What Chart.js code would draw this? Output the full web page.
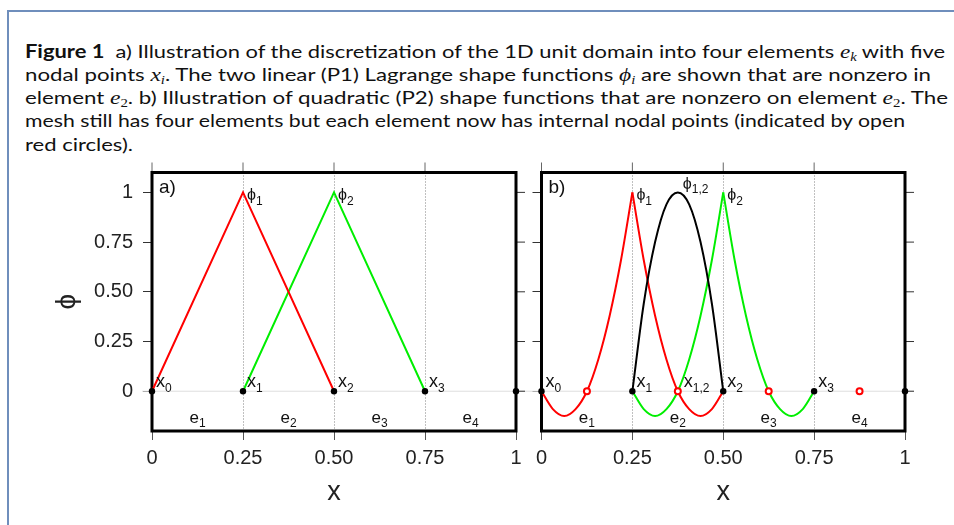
<!DOCTYPE html>
<html>
<head>
<meta charset="utf-8">
<script src="https://cdn.jsdelivr.net/npm/chart.js@4.4.0/dist/chart.umd.min.js"></script>
<style>
  html, body { margin: 0; padding: 0; background: #fff; }
  body { width: 954px; height: 525px; position: relative; overflow: hidden; }
  #frame { position: absolute; left: 7px; top: 10px; width: 960px; height: 530px;
           border-top: 2px solid #6f8ebc; border-left: 2px solid #6f8ebc; }
  .cap { position: absolute; left: 25px; font-family: Lato, "Noto Sans", sans-serif; font-size: 18px;
         color: #111; white-space: nowrap; transform-origin: 0 0; line-height: 24px; }
  .m { font-family: "Liberation Serif", "DejaVu Serif", serif; font-style: italic; font-size: 19px; }
  .m sub { font-size: 12px; vertical-align: -3px; line-height: 0; }
  .m sub.up { font-style: normal; }
  canvas { position: absolute; top: 150px; }
  #ca { left: 0; }
  #cb { left: 529px; }
</style>
</head>
<body>
<div id="frame"></div>
<div class="cap" style="top:39px"><b>Figure 1</b>&nbsp; a) Illustration of the discretization of the 1D unit domain into four elements <span class="m">e<sub>k</sub></span> with five</div>
<div class="cap" style="top:62px">nodal points <span class="m">x<sub>i</sub></span>. The two linear (P1) Lagrange shape functions <span class="m">ϕ<sub>i</sub></span> are shown that are nonzero in</div>
<div class="cap" style="top:85px">element <span class="m">e<sub class="up">2</sub></span>. b) Illustration of quadratic (P2) shape functions that are nonzero on element <span class="m">e<sub class="up">2</sub></span>. The</div>
<div class="cap" style="top:108px">mesh still has four elements but each element now has internal nodal points (indicated by open</div>
<div class="cap" style="top:132px">red circles).</div>

<canvas id="ca" width="529" height="375"></canvas>
<canvas id="cb" width="425" height="375"></canvas>

<script>
// axis ticks
const xTicks = [0, 0.25, 0.5, 0.75, 1];
const xTickLabels = ['0', '0.25', '0.50', '0.75', '1'];
const yTicks = [0, 0.25, 0.5, 0.75, 1];
const yTickLabels = ['0', '0.25', '0.50', '0.75', '1'];
const topTicks = [0, 0.25, 0.5, 0.75];

// mesh
const nodeX = [0, 0.25, 0.5, 0.75, 1];
const nodeY = [0, 0, 0, 0, 0];
const nodeSubs = ['0', '1', '2', '3'];
const midX = [0.125, 0.375, 0.625, 0.875];
const midY = [0, 0, 0, 0];
const elemSubs = ['1', '2', '3', '4'];

// a) linear shape functions
const p1xPhi1 = [0, 0.25, 0.5];
const p1xPhi2 = [0.25, 0.5, 0.75];
const p1Hat = [0, 1, 0];

// b) quadratic shape functions, read every 1/32
const xE1 = [0, 0.03125, 0.0625, 0.09375, 0.125, 0.15625, 0.1875, 0.21875, 0.25];
const xE2 = [0.25, 0.28125, 0.3125, 0.34375, 0.375, 0.40625, 0.4375, 0.46875, 0.5];
const xE3 = [0.5, 0.53125, 0.5625, 0.59375, 0.625, 0.65625, 0.6875, 0.71875, 0.75];
const p2Rise = [0, -0.09, -0.125, -0.09, 0, 0.16, 0.38, 0.66, 1];
const p2Fall = [1, 0.66, 0.38, 0.16, 0, -0.09, -0.125, -0.09, 0];
const p2Bubble = [0, 0.44, 0.75, 0.94, 1, 0.94, 0.75, 0.44, 0];

const phiPeakX = [0.25, 0.5];
const phiSubs = ['1', '2'];
const bubblePeakX = 0.375;
const bubbleSub = '1,2';

// fit caption lines to the widths in the figure
const capWidths = [920, 906, 923, 880, 108];
document.querySelectorAll('.cap').forEach((el, i) => {
  const w = el.getBoundingClientRect().width;
  el.style.transform = 'scaleX(' + (capWidths[i] / w) + ')';
});

const SANS = '"Liberation Sans", Arial, "DejaVu Sans", sans-serif';
const pts = (xs, ys) => xs.map((x, i) => ({x: x, y: ys[i]}));

function withSub(ctx, main, s, x, y, size, subSize, dy) {
  ctx.font = size + 'px ' + SANS;
  ctx.fillText(main, x, y);
  const w = ctx.measureText(main).width;
  ctx.font = subSize + 'px ' + SANS;
  ctx.fillText(s, x + w, y + dy);
}

function makePanel(id, panel) {
  const isA = panel === 'a';
  const frame = {
    id: 'frame',
    beforeDatasetsDraw(chart) {
      const {ctx, chartArea: ca, scales: {x, y}} = chart;
      const y0 = y.getPixelForValue(0);
      ctx.save();
      // zero line
      ctx.strokeStyle = '#dedede';
      ctx.lineWidth = 1;
      ctx.beginPath();
      ctx.moveTo(isA ? ca.left - 10 : 0, y0);
      ctx.lineTo(isA ? chart.width : ca.right + 9, y0);
      ctx.stroke();
      // top ticks
      ctx.strokeStyle = '#666';
      topTicks.forEach(v => {
        const px = x.getPixelForValue(v);
        ctx.beginPath();
        ctx.moveTo(px, ca.top - 10);
        ctx.lineTo(px, ca.top);
        ctx.stroke();
      });
      // right ticks
      ctx.strokeStyle = '#333';
      yTicks.forEach(v => {
        const py = y.getPixelForValue(v);
        ctx.beginPath();
        ctx.moveTo(ca.right, py);
        ctx.lineTo(ca.right + 9, py);
        ctx.stroke();
      });
      // frame
      ctx.strokeStyle = '#000';
      ctx.lineWidth = 3;
      ctx.strokeRect(ca.left, ca.top, ca.right - ca.left, ca.bottom - ca.top);
      ctx.restore();
    },
    afterDatasetsDraw(chart) {
      const {ctx, chartArea: ca, scales: {x, y}} = chart;
      const y0 = y.getPixelForValue(0);
      const y1 = y.getPixelForValue(1);
      ctx.save();
      ctx.fillStyle = '#111';
      ctx.textBaseline = 'alphabetic';
      ctx.textAlign = 'left';
      // panel tag
      ctx.font = '19px ' + SANS;
      ctx.fillText(panel + ')', ca.left + 7, ca.top + 20);
      // node labels
      nodeSubs.forEach((s, i) => {
        withSub(ctx, 'x', s, x.getPixelForValue(nodeX[i]) + 4, y0 - 4, 18, 12, 5);
      });
      if (!isA) withSub(ctx, 'x', bubbleSub, x.getPixelForValue(bubblePeakX) + 6, y0 - 4, 18, 12, 5);
      // element labels
      elemSubs.forEach((s, i) => {
        ctx.font = '17px ' + SANS;
        const w = ctx.measureText('e').width;
        ctx.font = '12px ' + SANS;
        const ws = ctx.measureText(s).width;
        withSub(ctx, 'e', s, x.getPixelForValue(midX[i]) - (w + ws) / 2, ca.bottom - 8, 17, 12, 4);
      });
      // shape function labels
      phiSubs.forEach((s, i) => {
        withSub(ctx, '\u03D5', s, x.getPixelForValue(phiPeakX[i]) + 4, y1 + 8, 16, 12, 5);
      });
      if (!isA) withSub(ctx, '\u03D5', bubbleSub, x.getPixelForValue(bubblePeakX) + 5, y1 - 3, 16, 12, 4);
      ctx.restore();
    }
  };

  const line = (data, color, smooth) => ({
    data: data, showLine: true, borderColor: color, borderWidth: 2, pointRadius: 0,
    fill: false, cubicInterpolationMode: smooth ? 'monotone' : 'default', tension: 0
  });

  const datasets = [
    {data: pts(nodeX, nodeY), pointRadius: 3.2, backgroundColor: '#000', borderWidth: 0, showLine: false, clip: false}
  ];
  if (isA) {
    datasets.push(line(pts(p1xPhi1, p1Hat), '#ff0000', false));
    datasets.push(line(pts(p1xPhi2, p1Hat), '#00ee00', false));
  } else {
    datasets.push({data: pts(midX, midY), pointRadius: 3, borderWidth: 2, borderColor: '#ff0000',
                   backgroundColor: '#fff', showLine: false, clip: false});
    datasets.push(line(pts(xE2, p2Bubble), '#000', true));
    datasets.push(line(pts(xE1, p2Rise), '#ff0000', true));
    datasets.push(line(pts(xE2, p2Fall), '#ff0000', true));
    datasets.push(line(pts(xE2, p2Rise), '#00ee00', true));
    datasets.push(line(pts(xE3, p2Fall), '#00ee00', true));
  }

  return new Chart(document.getElementById(id), {
    type: 'scatter',
    data: {datasets: datasets},
    plugins: [frame],
    options: {
      responsive: false,
      animation: false,
      events: [],
      layout: {padding: {top: 22.5, right: isA ? 13 : 49, bottom: 0, left: 0}},
      plugins: {legend: {display: false}, tooltip: {enabled: false}},
      scales: {
        x: {
          type: 'linear', min: 0, max: 1,
          afterBuildTicks: s => { s.ticks = xTicks.map(v => ({value: v})); },
          afterFit: s => { s.height = 94; },
          ticks: {font: {family: SANS, size: 20}, color: '#222', padding: 6, maxRotation: 0, autoSkip: false,
                  callback: (v, i) => xTickLabels[i]},
          grid: {color: c => (c.tick && c.tick.value > 0 && c.tick.value < 1) ? '#808080' : 'rgba(0,0,0,0)',
                 lineWidth: 1, tickLength: 9, tickColor: '#555', tickWidth: 1},
          border: {display: false, dash: [1, 2]},
          title: {display: true, text: 'x', color: '#222', font: {family: SANS, size: 27}, padding: {top: 0, bottom: 16}}
        },
        y: {
          type: 'linear', min: -0.2, max: 1.1,
          afterBuildTicks: s => { s.ticks = yTicks.map(v => ({value: v})); },
          afterFit: s => { s.width = isA ? 152 : 12.5; },
          ticks: {display: isA, font: {family: SANS, size: 20}, color: '#222', padding: 10,
                  callback: (v, i) => yTickLabels[i]},
          grid: {color: 'rgba(0,0,0,0)', tickLength: 9, tickColor: '#333', tickWidth: 1},
          border: {display: false},
          title: {display: isA, text: '\u03D5', color: '#222', font: {family: SANS, size: 28}, padding: {top: 50, bottom: 0}}
        }
      }
    }
  });
}

makePanel('ca', 'a');
makePanel('cb', 'b');
</script>
</body>
</html>
